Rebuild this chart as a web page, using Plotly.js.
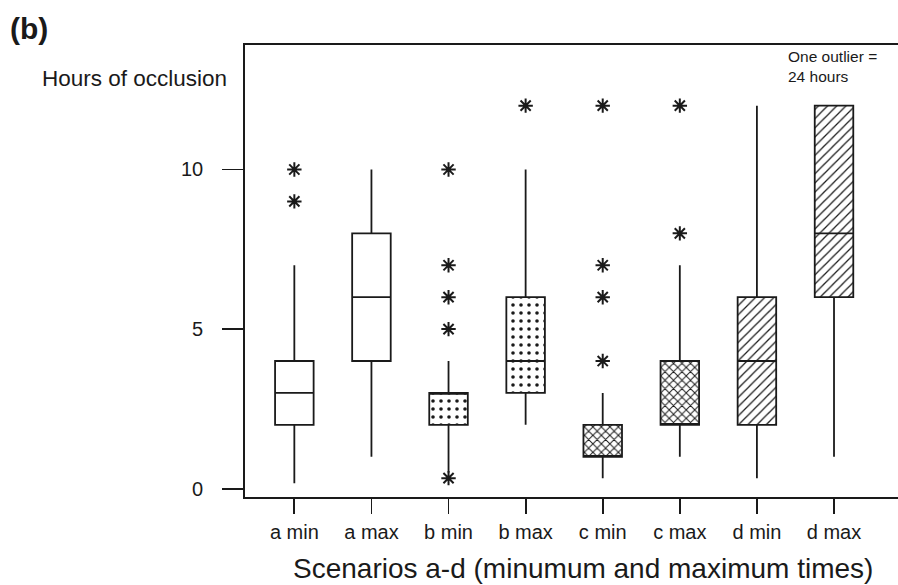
<!DOCTYPE html>
<html>
<head>
<meta charset="utf-8">
<script src="https://cdn.plot.ly/plotly-3.0.1.min.js"></script>
<style>html,body{margin:0;padding:0;background:#fff;}#chart{width:898px;height:585px;}</style>
</head>
<body>
<div id="chart"></div>
<script>
// Data
var categories = ['a min', 'a max', 'b min', 'b max', 'c min', 'c max', 'd min', 'd max'];
var q1         = [2, 4, 2, 3, 1, 2, 2, 6];
var medians    = [3, 6, 3, 4, 1, 2, 4, 8];
var q3         = [4, 8, 3, 6, 2, 4, 6, 12];
var lowerWhisk = [0.17, 1, 0.5, 2, 0.33, 1, 0.33, 1];
var upperWhisk = [7, 10, 4, 10, 3, 7, 12, 12];
var outlierCat = ['a min', 'a min', 'b min', 'b min', 'b min', 'b min', 'b min', 'b max', 'c min', 'c min', 'c min', 'c min', 'c max', 'c max'];
var outlierVal = [10, 9, 10, 7, 6, 5, 0.33, 12, 12, 7, 6, 4, 12, 8];
var fillPattern = ['', '', '.', '.', 'x', 'x', '/', '/'];
var yTicks = [0, 5, 10];

var font = 'Liberation Sans, Arial, sans-serif';
var ink = '#1a1a1a';

var boxHeights = q3.map(function (v, i) { return v - q1[i]; });

var bars = {
  type: 'bar',
  x: categories,
  y: boxHeights,
  base: q1,
  width: 0.5,
  marker: {
    color: 'white',
    line: { width: 0 },
    pattern: {
      shape: fillPattern,
      fgcolor: ink,
      bgcolor: 'white',
      size: [8, 8, 8, 8, 6, 6, 6.5, 6.5],
      solidity: [0.2, 0.2, 0.16, 0.16, 0.3, 0.3, 0.2, 0.2],
      fillmode: 'replace'
    }
  },
  hoverinfo: 'skip',
  showlegend: false
};

var boxes = {
  type: 'box',
  x: categories,
  q1: q1,
  median: medians,
  q3: q3,
  lowerfence: lowerWhisk,
  upperfence: upperWhisk,
  boxpoints: false,
  width: 0.5,
  whiskerwidth: 0,
  fillcolor: 'rgba(0,0,0,0)',
  line: { color: ink, width: 1.8 },
  hoverinfo: 'skip',
  showlegend: false
};

var outliers = {
  type: 'scatter',
  mode: 'markers',
  x: outlierCat,
  y: outlierVal,
  marker: { symbol: 'asterisk-open', size: 12, color: ink, line: { color: ink, width: 2 } },
  hoverinfo: 'skip',
  showlegend: false,
  cliponaxis: false
};

var L = 245, T = 45, B = 496.7, R = 898;
var W = R - L, H = B - T;
function px(x) { return (x - L) / W; }
function py(y) { return (B - y) / H; }

var layout = {
  width: 898,
  height: 585,
  margin: { l: L, r: 0, t: T, b: 585 - B },
  paper_bgcolor: 'white',
  plot_bgcolor: 'white',
  showlegend: false,
  font: { family: font, color: ink },
  xaxis: {
    type: 'category',
    categoryorder: 'array',
    categoryarray: categories,
    range: [-0.64, 7.83],
    showline: true,
    linecolor: ink,
    linewidth: 1.8,
    mirror: true,
    ticks: 'outside',
    ticklen: 15,
    tickwidth: 1.8,
    tickcolor: ink,
    showgrid: false,
    zeroline: false,
    tickfont: { family: font, size: 20, color: ink },
    ticklabelstandoff: 1
  },
  yaxis: {
    range: [-0.26, 13.9],
    tickmode: 'array',
    tickvals: yTicks,
    ticktext: yTicks.map(String),
    showline: true,
    linecolor: ink,
    linewidth: 1.8,
    ticks: 'outside',
    ticklen: 21,
    tickwidth: 1.8,
    tickcolor: ink,
    showgrid: false,
    zeroline: false,
    tickfont: { family: font, size: 20, color: ink },
    ticklabelstandoff: 15
  },
  annotations: [
    { text: '<b>(b)</b>', xref: 'paper', yref: 'paper', x: px(8), y: py(29), xanchor: 'left', yanchor: 'middle', showarrow: false, font: { family: font, size: 30, color: ink } },
    { text: 'Hours of occlusion', xref: 'paper', yref: 'paper', x: px(40), y: py(78), xanchor: 'left', yanchor: 'middle', showarrow: false, font: { family: font, size: 22.5, color: ink } },
    { text: 'One outlier =<br>24 hours', xref: 'paper', yref: 'paper', x: px(786), y: py(66), xanchor: 'left', yanchor: 'middle', align: 'left', showarrow: false, font: { family: font, size: 15.5, color: ink } },
    { text: 'Scenarios a-d (minumum and maximum times)', xref: 'paper', yref: 'paper', x: px(583), y: py(568), xanchor: 'center', yanchor: 'middle', showarrow: false, font: { family: font, size: 28, color: ink } }
  ]
};

Plotly.newPlot('chart', [bars, boxes, outliers], layout, { displayModeBar: false, staticPlot: true });
</script>
</body>
</html>
